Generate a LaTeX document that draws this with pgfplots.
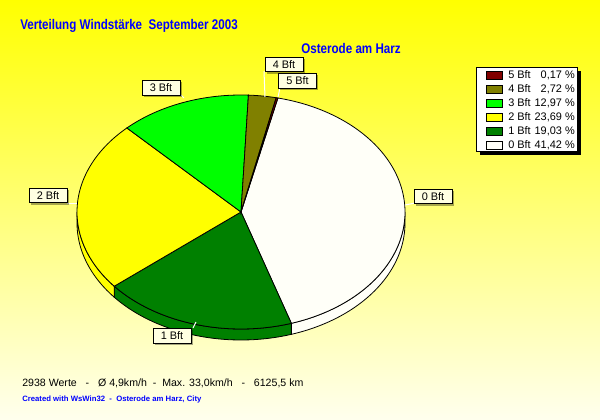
\documentclass[border=0pt]{standalone}
\usepackage{pgfplots}
\pgfplotsset{compat=1.18}
\usepackage{pgfplotstable}
\usepackage{fontspec}
\setmainfont{Liberation Sans}
\newfontface\titlefont[FakeStretch=0.83]{Liberation Sans Bold}
\usetikzlibrary{shadows}

\definecolor{bft5}{RGB}{128,0,0}
\definecolor{bft4}{RGB}{128,128,0}
\definecolor{bft3}{RGB}{0,255,0}
\definecolor{bft2}{RGB}{255,255,0}
\definecolor{bft1}{RGB}{0,128,0}
\definecolor{bft0}{RGB}{255,255,248}
\definecolor{titleblue}{RGB}{0,0,255}
\definecolor{labelfill}{RGB}{255,255,226}
\definecolor{bgbottom}{RGB}{255,255,238}

\tikzset{lbl/.style={draw=black, line width=0.6pt, fill=labelfill, font=\fontsize{8.2}{9}\selectfont,
    minimum width=28.5pt, minimum height=11pt, inner sep=0pt,
    drop shadow={shadow xshift=1.3pt, shadow yshift=-1.3pt, opacity=0.35, fill=black}},
  legtxt/.style={inner sep=0pt, font=\fontsize{8.2}{9}\selectfont},
  legbox/.style={draw=black, line width=0.6pt}}

\pgfplotstableread{
bft pct col
0 41.42 bft0
1 19.03 bft1
2 23.69 bft2
3 12.97 bft3
4 2.72 bft4
5 0.17 bft5
}\piedata

\newcommand\pcx{241}
\newcommand\pcy{212}
\newcommand\prx{164}
\newcommand\pry{117}
\newcommand\pdep{11}
\newcommand\startang{77}

\newcommand\appendarc[3]{%
  \pgfmathtruncatemacro\nst{max(2,ceil(abs(#2-#1)/1.5))}%
  \pgfplotsforeachungrouped \i in {0,...,\nst}{%
    \pgfmathsetmacro\angt{#1+(#2-#1)*\i/\nst}%
    \pgfmathsetmacro\ppx{\pcx+\prx*cos(\angt)}%
    \pgfmathsetmacro\ppy{\pcy-\pry*sin(\angt)+#3}%
    \xdef\coordlist{\coordlist(\ppx,\ppy)}%
  }%
}
\newcommand\getslice[1]{%
  \pgfplotstablegetelem{#1}{pct}\of\piedata\let\spct\pgfplotsretval
  \pgfplotstablegetelem{#1}{col}\of\piedata\let\scol\pgfplotsretval
  \pgfmathsetmacro\sA{\curang}%
  \pgfmathsetmacro\sB{\curang-3.6*\spct}%
  \xdef\curang{\sB}%
}
\newcommand\sidewall[1]{%
  \getslice{#1}%
  \pgfmathsetmacro\va{max(\sB,-180)}%
  \pgfmathsetmacro\vb{min(\sA,0)}%
  \pgfmathtruncatemacro\vis{\vb>\va+0.01}%
  \ifnum\vis=1
    \gdef\coordlist{}%
    \appendarc{\vb}{\va}{0}%
    \appendarc{\va}{\vb}{\pdep}%
    \edef\doplot{\noexpand\addplot[fill=\scol, draw=black, line width=0.6pt, mark=none] coordinates {\coordlist} -- cycle;}%
    \doplot
  \fi
}
\newcommand\topslice[1]{%
  \getslice{#1}%
  \xdef\coordlist{(\pcx,\pcy)}%
  \appendarc{\sA}{\sB}{0}%
  \edef\doplot{\noexpand\addplot[fill=\scol, draw=black, line width=0.6pt, mark=none] coordinates {\coordlist} -- cycle;}%
  \doplot
}

\begin{document}
\begin{tikzpicture}
\path[use as bounding box] (0,0) rectangle (450pt,315pt);
\shade[top color=yellow, bottom color=bgbottom] (0,0) rectangle (450pt,315pt);
\begin{axis}[at={(0,0)}, anchor=south west, scale only axis, width=450pt, height=315pt,
  xmin=0, xmax=600, ymin=0, ymax=420, y dir=reverse, hide axis, clip=false]
% side walls
\xdef\curang{\startang}
\sidewall{0}\sidewall{1}\sidewall{2}\sidewall{3}\sidewall{4}\sidewall{5}
% top faces
\xdef\curang{\startang}
\topslice{0}\topslice{1}\topslice{2}\topslice{3}\topslice{4}\topslice{5}

% leader lines
\draw[white, line width=0.75pt] (405,205) -- (415,203);
\draw[white, line width=0.75pt] (193,328) -- (196,322);
\draw[white, line width=0.75pt] (67,204) -- (77,204);
\draw[white, line width=0.75pt] (180,94) -- (184,98);
\draw[white, line width=0.75pt] (264,71) -- (265,97);
\draw[white, line width=0.75pt] (280,88) -- (278,97);

% labels
\node[lbl] at (433,196.5) {0 Bft};
\node[lbl] at (172,336) {1 Bft};
\node[lbl] at (48,195.5) {2 Bft};
\node[lbl] at (161,88) {3 Bft};
\node[lbl] at (284,64.5) {4 Bft};
\node[lbl] at (297.5,81) {5 Bft};

% legend
\fill[black] (480,71) rectangle (581,155);
\filldraw[fill=white, draw=black, line width=0.6pt] (476,67) rectangle (577,151);
\filldraw[legbox, fill=bft5] (486,71) rectangle (502,79);
\filldraw[legbox, fill=bft4] (486,85) rectangle (502,93);
\filldraw[legbox, fill=bft3] (486,99) rectangle (502,107);
\filldraw[legbox, fill=bft2] (486,113) rectangle (502,121);
\filldraw[legbox, fill=bft1] (486,127) rectangle (502,135);
\filldraw[legbox, fill=bft0] (486,141) rectangle (502,149);
\node[legtxt, anchor=west] at (508,75) {5 Bft};
\node[legtxt, anchor=west] at (508,89) {4 Bft};
\node[legtxt, anchor=west] at (508,103) {3 Bft};
\node[legtxt, anchor=west] at (508,117) {2 Bft};
\node[legtxt, anchor=west] at (508,131) {1 Bft};
\node[legtxt, anchor=west] at (508,145) {0 Bft};
\node[legtxt, anchor=east] at (575,75) {0,17 \%};
\node[legtxt, anchor=east] at (575,89) {2,72 \%};
\node[legtxt, anchor=east] at (575,103) {12,97 \%};
\node[legtxt, anchor=east] at (575,117) {23,69 \%};
\node[legtxt, anchor=east] at (575,131) {19,03 \%};
\node[legtxt, anchor=east] at (575,145) {41,42 \%};

% titles
\node[anchor=base west, inner sep=0pt, text=titleblue, font=\titlefont\fontsize{10.5}{12}\selectfont] at (20,30) {Verteilung Windstärke\ \ September 2003};
\node[anchor=base west, inner sep=0pt, text=titleblue, font=\titlefont\fontsize{10.5}{12}\selectfont] at (301,54) {Osterode am Harz};

% footer
\node[anchor=base west, inner sep=0pt, font=\fontsize{7.95}{10}\selectfont] at (22,386.5) {2938 Werte\ \ \ -\ \ \ Ø 4,9km/h\ \ -\ \ Max. 33,0km/h\ \ \ -\ \ \ 6125,5 km};
\node[anchor=base west, inner sep=0pt, text=titleblue, font=\bfseries\fontsize{5.8}{7}\selectfont] at (22,401.5) {Created with WsWin32\ \ -\ \ Osterode am Harz, City};
\end{axis}
\end{tikzpicture}
\end{document}
